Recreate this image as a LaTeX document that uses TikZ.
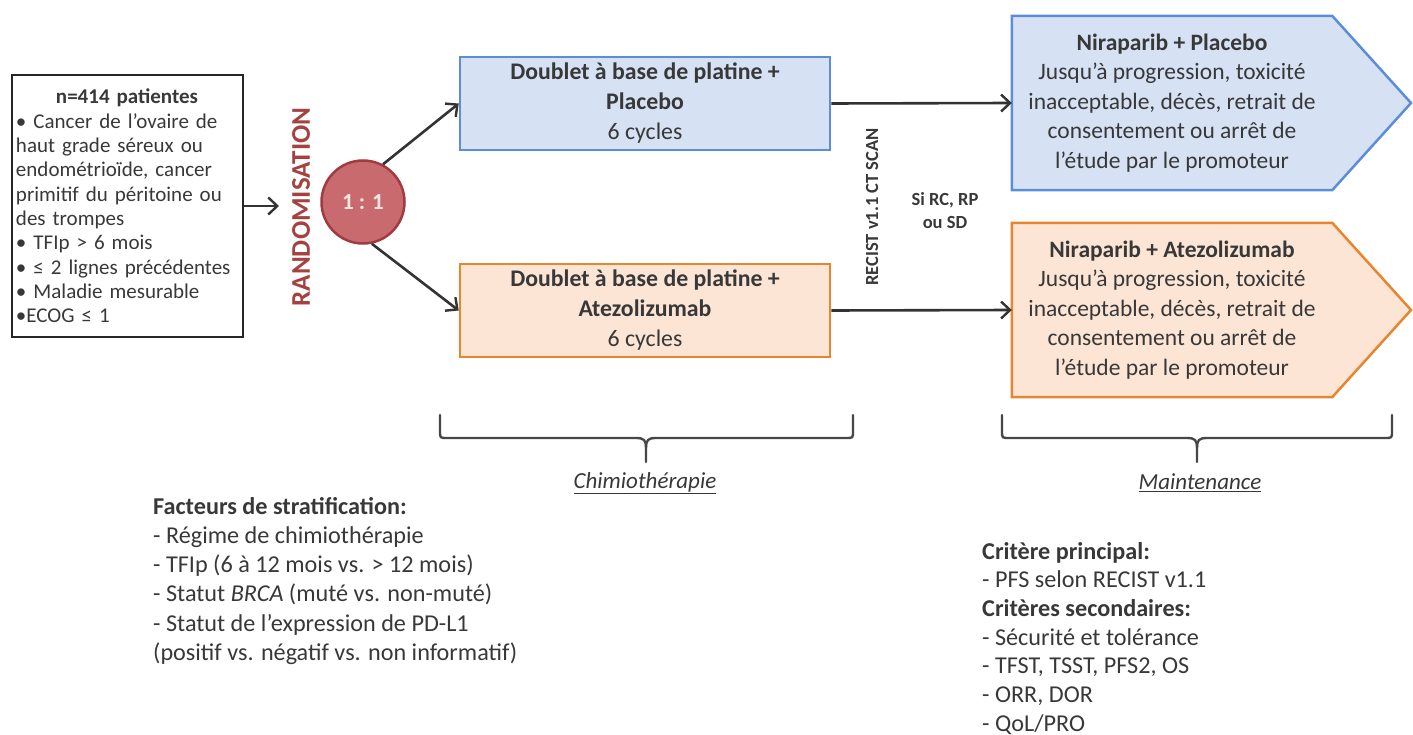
\documentclass[tikz,border=0pt]{standalone}
\usepackage{fontspec}
\setmainfont{Carlito}
\usetikzlibrary{arrows.meta,backgrounds}
\definecolor{txt}{HTML}{383838}
\definecolor{arrc}{HTML}{333333}
\definecolor{bluefill}{HTML}{D6E1F3}
\definecolor{bluedraw}{HTML}{5B8ED7}
\definecolor{orfill}{HTML}{FCE5D5}
\definecolor{ordraw}{HTML}{E8852F}
\definecolor{circfill}{HTML}{C96A6E}
\definecolor{circdraw}{HTML}{A23B41}
\definecolor{randc}{HTML}{A3423F}
\definecolor{onetext}{HTML}{F6E4E4}
\begin{document}
\begin{tikzpicture}[x=1pt,y=-1pt,
  every node/.style={text=txt, inner sep=0pt},
  arr/.style={draw=arrc, line width=2.6pt, -{Straight Barb[length=9pt,width=17pt,line width=2.4pt]}},
  bracestyle/.style={draw=arrc!90, line width=2.4pt, line cap=round},
  chimbox/.style={line width=2.5pt, minimum width=370, minimum height=93, align=center, font=\fontsize{23.8}{30}\selectfont},
  pentext/.style={minimum width=320, minimum height=174, align=center, font=\fontsize{23.5}{29.5}\selectfont},
  pentshape/.style={line width=2.5pt, line join=miter},
  blocktxt/.style={anchor=north west, align=left}
]
\useasboundingbox (0,0) rectangle (1413,735);

% patients box
\node[draw=black!85, line width=2pt, minimum width=231, minimum height=262,
      text width=222pt, align=left, font=\fontsize{21}{24.3}\selectfont] (lb) at (127,206)
  {\makebox[222pt]{\bfseries n=414 patientes}\\
   • Cancer de l’ovaire de\\
   haut grade séreux ou\\
   endométrioïde, cancer\\
   primitif du péritoine ou\\
   des trompes\\
   • TFIp > 6 mois\\
   • ≤ 2 lignes précédentes\\
   • Maladie mesurable\\
   •ECOG ≤ 1};
\coordinate (la) at (279,206);
\draw[arr] (lb.east) -- (la);

% randomisation
\node[rotate=90, text=randc, font=\fontsize{27}{30}\selectfont\bfseries] (rand) at (301,207) {RANDOMISATION};
\node[circle, draw=circdraw, fill=circfill, line width=2.5pt, minimum size=83,
      text=onetext, font=\fontsize{23}{26}\selectfont\bfseries] (c) at (363,202) {1 : 1};

% chemo boxes
\node[chimbox, draw=bluedraw, fill=bluefill] (tb) at (645,103.5)
  {\textbf{Doublet à base de platine +}\\ \textbf{Placebo}\\ 6 cycles};
\node[chimbox, draw=ordraw, fill=orfill] (bb) at (645,310.5)
  {\textbf{Doublet à base de platine +}\\ \textbf{Atezolizumab}\\ 6 cycles};

\draw[arr] (c.62) -- (tb.west);
\draw[arr] (c.-78) -- (bb.west);

% maintenance pentagons
\node[pentext] (pt) at (1172,103)
  {\textbf{Niraparib + Placebo}\\ Jusqu’à progression, toxicité\\ inacceptable, décès, retrait de\\ consentement ou arrêt de\\ l’étude par le promoteur};
\node[pentext] (pb) at (1172,310)
  {\textbf{Niraparib + Atezolizumab}\\ Jusqu’à progression, toxicité\\ inacceptable, décès, retrait de\\ consentement ou arrêt de\\ l’étude par le promoteur};
\begin{pgfonlayer}{background}
\draw[pentshape, draw=bluedraw, fill=bluefill] (pt.north west) -- (pt.north east) -- (1411,103) -- (pt.south east) -- (pt.south west) -- cycle;
\draw[pentshape, draw=ordraw, fill=orfill] (pb.north west) -- (pb.north east) -- (1411,310) -- (pb.south east) -- (pb.south west) -- cycle;
\end{pgfonlayer}

\draw[arr] (tb.east) -- (pt.west);
\draw[arr] (bb.east) -- (pb.west);

% RECIST labels
\node[rotate=90, font=\fontsize{18.5}{22}\selectfont\bfseries] (recist) at (872,207) {RECIST v1.1 CT SCAN};
\node[align=center, font=\fontsize{18.5}{23}\selectfont\bfseries] (si) at (945,211) {Si RC, RP\\ ou SD};

% braces
\draw[bracestyle] (440,415) -- (440,431) .. controls (440,438) and (440,438) .. (447,438) -- (636,438) .. controls (644,438) and (646,440) .. (646,448) -- (646,462);
\draw[bracestyle] (646,448) .. controls (646,440) and (648,438) .. (656,438) -- (846,438) .. controls (853,438) and (853,438) .. (853,431) -- (853,415);
\draw[bracestyle] (1002,415) -- (1002,431) .. controls (1002,438) and (1002,438) .. (1009,438) -- (1187,438) .. controls (1195,438) and (1197,440) .. (1197,448) -- (1197,462);
\draw[bracestyle] (1197,448) .. controls (1197,440) and (1199,438) .. (1207,438) -- (1385,438) .. controls (1392,438) and (1392,438) .. (1392,431) -- (1392,415);

\node[font=\fontsize{23}{26}\selectfont\itshape] (chim) at (645,483) {\underline{Chimiothérapie}};
\node[font=\fontsize{23}{26}\selectfont\itshape] (maint) at (1200,483) {\underline{Maintenance}};

% text blocks
\node[blocktxt, font=\fontsize{24.2}{29.2}\selectfont] (fact) at (153,497)
  {\textbf{Facteurs de stratification:}\\
   - Régime de chimiothérapie\\
   - TFIp (6 à 12 mois vs. > 12 mois)\\
   - Statut \textit{BRCA} (muté vs. non-muté)\\
   - Statut de l’expression de PD-L1\\
   (positif vs. négatif vs. non informatif)};
\node[blocktxt, font=\fontsize{24.2}{28.7}\selectfont] (crit) at (982,542)
  {\textbf{Critère principal:}\\
   - PFS selon RECIST v1.1\\
   \textbf{Critères secondaires:}\\
   - Sécurité et tolérance\\
   - TFST, TSST, PFS2, OS\\
   - ORR, DOR\\
   - QoL/PRO};
\end{tikzpicture}
\end{document}
